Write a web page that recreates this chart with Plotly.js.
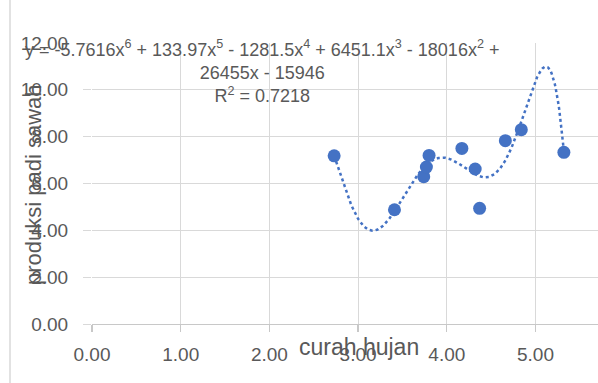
<!DOCTYPE html>
<html>
<head>
<meta charset="utf-8">
<script src="https://cdn.plot.ly/plotly-3.0.1.min.js"></script>
<style>html,body{margin:0;padding:0;background:#fff;}#chart{width:598px;height:383px;}</style>
</head>
<body>
<div id="chart"></div>
<script>
// Data
const curahHujan = [2.73, 3.41, 3.74, 3.77, 3.80, 4.17, 4.32, 4.37, 4.66, 4.84, 5.32];
const produksiPadi = [7.18, 4.88, 6.29, 6.70, 7.20, 7.50, 6.62, 4.94, 7.83, 8.30, 7.33];
const xTickVals = [0, 1, 2, 3, 4, 5];
const xTickText = ["0.00", "1.00", "2.00", "3.00", "4.00", "5.00"];
const yTickVals = [0, 2, 4, 6, 8, 10, 12];
const yTickText = ["0.00", "2.00", "4.00", "6.00", "8.00", "10.00", "12.00"];
const equationText = "y = -5.7616x<sup>6</sup> + 133.97x<sup>5</sup> - 1281.5x<sup>4</sup> + 6451.1x<sup>3</sup> - 18016x<sup>2</sup> +<br>26455x - 15946<br>R<sup>2</sup> = 0.7218";
const xTitle = "curah hujan";
const yTitle = "produksi padi sawah";
const polyOrder = 6;

// Least-squares polynomial trendline (order 6), computed from the data
function polyFit(xs, ys, order) {
  const n = xs.length;
  const mx = xs.reduce((a, b) => a + b, 0) / n;
  const sx = Math.max(...xs.map(v => Math.abs(v - mx))) || 1;
  const m = order + 1;
  const A = [];
  for (let i = 0; i < m; i++) { A.push(new Array(m + 1).fill(0)); }
  for (let k = 0; k < n; k++) {
    const t = (xs[k] - mx) / sx;
    const pw = [];
    for (let i = 0; i < 2 * m; i++) pw.push(Math.pow(t, i));
    for (let i = 0; i < m; i++) {
      for (let j = 0; j < m; j++) A[i][j] += pw[i + j];
      A[i][m] += ys[k] * pw[i];
    }
  }
  for (let c = 0; c < m; c++) {
    let p = c;
    for (let r = c + 1; r < m; r++) if (Math.abs(A[r][c]) > Math.abs(A[p][c])) p = r;
    [A[c], A[p]] = [A[p], A[c]];
    for (let r = 0; r < m; r++) {
      if (r === c) continue;
      const f = A[r][c] / A[c][c];
      for (let j = c; j <= m; j++) A[r][j] -= f * A[c][j];
    }
  }
  const coef = A.map((row, i) => row[m] / row[i]);
  return x => { const t = (x - mx) / sx; let s = 0; for (let i = m - 1; i >= 0; i--) s = s * t + coef[i]; return s; };
}
const f = polyFit(curahHujan, produksiPadi, polyOrder);
const xmin = Math.min(...curahHujan), xmax = Math.max(...curahHujan);
const trendX = [], trendY = [];
for (let i = 0; i <= 300; i++) { const x = xmin + (xmax - xmin) * i / 300; trendX.push(x); trendY.push(f(x)); }

const blue = "#4472C4";
const grey = "#595959";
const font = "'Liberation Sans', Arial, sans-serif";

const traces = [
  { x: trendX, y: trendY, mode: "lines", type: "scatter", line: { color: blue, width: 2.5, dash: "dot" }, hoverinfo: "skip", showlegend: false },
  { x: curahHujan, y: produksiPadi, mode: "markers", type: "scatter", marker: { color: blue, size: 13 }, showlegend: false }
];

const L = 92, R = 0, T = 43, B = 59, W = 598, H = 383;
const pw = W - L - R, ph = H - T - B;

const layout = {
  width: W, height: H,
  margin: { l: L, r: R, t: T, b: B, pad: 0 },
  paper_bgcolor: "#fff", plot_bgcolor: "#fff",
  font: { family: font, color: grey, size: 19 },
  showlegend: false,
  xaxis: {
    range: [0, pw / 88.7], tickvals: xTickVals, ticktext: xTickText,
    showgrid: true, gridcolor: "#d9d9d9", gridwidth: 1,
    zeroline: false, showline: true, linecolor: "#c8c8c8", linewidth: 1.3,
    ticks: "outside", ticklen: 7, tickcolor: "#c8c8c8", tickwidth: 1.3,
    ticklabelstandoff: 6,
    tickfont: { family: font, size: 19, color: grey }
  },
  yaxis: {
    range: [0, 12], tickvals: yTickVals, ticktext: yTickText,
    showgrid: true, gridcolor: "#d9d9d9", gridwidth: 1,
    zeroline: false, showline: false,
    ticks: "outside", ticklen: 8, tickcolor: "#d9d9d9", tickwidth: 1,
    ticklabelstandoff: 11,
    tickfont: { family: font, size: 19, color: grey }
  },
  annotations: [
    { text: equationText, xref: "x", yref: "y", x: (262 - L) / 88.7, y: (324 - 71.5) / (ph / 12),
      xanchor: "center", yanchor: "middle", align: "center", showarrow: false,
      font: { family: font, size: 18, color: grey } },
    { text: xTitle, xref: "paper", yref: "paper", x: (359 - L) / pw, y: -(347 - (T + ph)) / ph,
      xanchor: "center", yanchor: "middle", showarrow: false,
      font: { family: font, size: 23, color: grey } },
    { text: yTitle, xref: "paper", yref: "paper", x: (34 - L) / pw, y: (T + ph - 185) / ph,
      xanchor: "center", yanchor: "middle", textangle: -90, showarrow: false,
      font: { family: font, size: 22, color: grey } }
  ],
  shapes: [
    { type: "line", xref: "paper", yref: "paper", x0: (10 - L) / pw, x1: (10 - L) / pw, y0: -B / ph, y1: 1 + T / ph,
      line: { color: "#d9d9d9", width: 1.5 } }
  ]
};

Plotly.newPlot("chart", traces, layout, { displayModeBar: false, staticPlot: true });
</script>
</body>
</html>
